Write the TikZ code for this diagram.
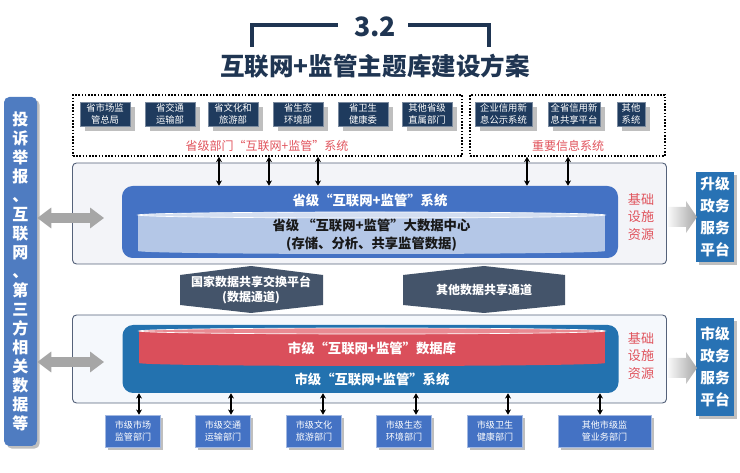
\documentclass[tikz,border=0pt]{standalone}
\usepackage{fontspec}
\setmainfont{Noto Sans CJK SC}
\usepackage{tikz}
\usetikzlibrary{positioning, calc}
\usetikzlibrary{arrows.meta}
\usetikzlibrary{shadows}

\definecolor{navy}{HTML}{1F3552}
\definecolor{provbox}{HTML}{1F3B5E}
\definecolor{lblred}{HTML}{E0535C}
\definecolor{panelfill}{HTML}{F3F4F8}
\definecolor{cityfill}{HTML}{F5F8FC}
\definecolor{panelline}{HTML}{55627A}
\definecolor{provblue}{HTML}{4472C4}
\definecolor{dbblue}{HTML}{B4C7E7}
\definecolor{dbtop}{HTML}{D3DEF1}
\definecolor{chanfill}{HTML}{44546A}
\definecolor{cityblue}{HTML}{2372AF}
\definecolor{dbred}{HTML}{DA4F5B}
\definecolor{dbredtop}{HTML}{E98A92}
\definecolor{sideblue}{HTML}{4F7CC1}
\definecolor{platblue}{HTML}{2872B4}
\definecolor{shadowgray}{HTML}{BFBFBF}
\definecolor{arrowgray}{HTML}{A6A6A6}

\begin{document}
\begin{tikzpicture}[x=0.75pt,y=-0.75pt,>={Stealth[length=4pt,width=4.5pt]}]
	\def\px{0.75pt}
	\tikzstyle{p-node}=[fill=provbox,draw=provbox!60!white,text=white,align=center,inner sep=1pt,
		font=\fontsize{7}{9}\selectfont,minimum height=24*\px,
		drop shadow={shadow xshift=4pt,shadow yshift=-4pt,fill=shadowgray,opacity=1}]
	\tikzstyle{c-node}=[fill=provblue,draw=provblue!50!white,text=white,align=center,inner sep=1pt,
		font=\fontsize{6.8}{8.8}\selectfont,minimum width=55*\px,minimum height=32*\px,
		drop shadow={shadow xshift=2.2pt,shadow yshift=-2.2pt,fill=shadowgray,opacity=1}]
	\tikzstyle{grp}=[draw=black,line width=1.2pt,dash pattern=on 1.2pt off 1.2pt,minimum height=61*\px]
	\tikzstyle{panel}=[draw=panelline,line width=0.7pt,rounded corners=3pt,minimum width=594*\px]
	\tikzstyle{sys}=[rounded corners=8pt,minimum width=496*\px]
	\tikzstyle{annot}=[text=lblred,font=\fontsize{9}{11}\selectfont]
	\tikzstyle{infra}=[text=lblred,align=center,font=\fontsize{9.8}{12.8}\selectfont]
	\tikzstyle{wtitle}=[text=white,font=\fontsize{10}{12}\selectfont\bfseries]
	\tikzstyle{plat}=[fill=platblue,text=white,align=center,minimum width=36*\px,
		font=\fontsize{11}{16.4}\selectfont\bfseries,
		drop shadow={shadow xshift=2.2pt,shadow yshift=-2.2pt,fill=shadowgray,opacity=1}]
	\tikzstyle{dbl}=[<->,line width=0.9pt]
	\tikzstyle{garrow}=[line width=7.5pt,draw=arrowgray,
		{Triangle[length=10.5pt,width=15pt]}-{Triangle[length=10.5pt,width=15pt]}]
	\useasboundingbox (0,0) rectangle (740,473);

	% title
	\node[text=navy,font=\fontsize{20}{22}\selectfont\bfseries] (num) at (375,27) {3.2};
	\node[text=navy,font=\fontsize{18.4}{20}\selectfont\bfseries] (title) at (375,66) {互联网+监管主题库建设方案};
	\draw[navy,line width=2.6pt] (252,47) -- (252,25) -- (338,25);
	\draw[navy,line width=2.6pt] (408,25) -- (489,25) -- (489,47);

	% province departments
	\node[grp,minimum width=389*\px] (provgrp) at (267.5,125.5) {};
	\node[p-node,minimum width=50*\px] (p0) at (105,114) {省市场监\\管总局};
	\node[p-node,minimum width=50*\px] (p1) at (170,114) {省交通\\运输部};
	\node[p-node,minimum width=50*\px] (p2) at (233,114) {省文化和\\旅游部};
	\node[p-node,minimum width=50*\px] (p3) at (298,114) {省生态\\环境部};
	\node[p-node,minimum width=50*\px] (p4) at (363,114) {省卫生\\健康委};
	\node[p-node,minimum width=50*\px] (p5) at (427,114) {其他省级\\直属部门};
	\node[annot] (provlbl) at (267,146) {省级部门“互联网+监管”系统};

	% information systems
	\node[grp,minimum width=195*\px] (infogrp) at (567.5,125.5) {};
	\node[p-node,minimum width=57*\px] (i0) at (503.5,114) {企业信用新\\息公示系统};
	\node[p-node,minimum width=52*\px] (i1) at (574,114) {全省信用新\\息共享平台};
	\node[p-node,minimum width=28*\px] (i2) at (631,114) {其他\\系统};
	\node[annot] (infolbl) at (568,146) {重要信息系统};

	% data channels
	\fill[chanfill] (180,275) -- (251,266) -- (323,275) -- (323,305) -- (251,313) -- (180,305) -- cycle;
	\fill[chanfill] (403,275) -- (484,266) -- (565,275) -- (565,305) -- (484,313) -- (403,305) -- cycle;
	\node[text=white,align=center,font=\fontsize{9}{11.5}\selectfont\bfseries] (nat) at (251,290) {国家数据共享交换平台\\(数据通道)};
	\node[text=white,font=\fontsize{9}{11.5}\selectfont\bfseries] (other) at (484,290) {其他数据共享通道};

	% province layer
	\node[panel,fill=panelfill,minimum height=101*\px] (provpanel) at (369.5,213.5) {};
	\node[sys,fill=provblue,minimum height=72*\px] (provsys) at (370,222) {};
	\node[wtitle] (provttl) at (370,200) {省级“互联网+监管”系统};
	\fill[dbblue] (138,215) rectangle (605,251);
	\fill[dbblue] (371.5,251) ellipse [x radius=233.5, y radius=3];
	\filldraw[fill=dbtop,draw=white,line width=0.5pt] (371.5,215) ellipse [x radius=233.5, y radius=3];
	\node[align=center,text=black!90,font=\fontsize{10}{13}\selectfont\bfseries] (bigdata) at (371.5,235) {省级 “互联网+监管”大数据中心\\(存储、分析、共享监管数据)};
	\node[infra] (provinfra) at (641,217) {基础\\设施\\资源};

	% city layer
	\node[panel,fill=cityfill,minimum height=88*\px] (citypanel) at (369.5,359) {};
	\node[sys,fill=cityblue,minimum height=68*\px] (citysys) at (370.5,359) {};
	\fill[dbred] (139,331) rectangle (605,363);
	\fill[dbred] (372,363) ellipse [x radius=233, y radius=3];
	\filldraw[fill=dbredtop,draw=white,line width=0.5pt] (372,331) ellipse [x radius=233, y radius=3];
	\node[wtitle] (dbttl) at (372,348) {市级“互联网+监管”数据库};
	\node[wtitle] (cityttl) at (372,379) {市级“互联网+监管”系统};
	\node[infra] (cityinfra) at (641,356) {基础\\设施\\资源};

	% city departments
	\node[c-node] (c0) at (133,431) {市级市场\\监管部门};
	\node[c-node] (c1) at (223,431) {市级交通\\运输部门};
	\node[c-node] (c2) at (314,431) {市级文化\\旅游部门};
	\node[c-node] (c3) at (404,431) {市级生态\\环境部门};
	\node[c-node] (c4) at (495,431) {市级卫生\\健康部门};
	\node[c-node,minimum width=93*\px] (c5) at (604.5,431) {其他市级监\\管业务部门};

	% sources and platforms
	\node[fill=sideblue,rounded corners=4pt,text=white,align=center,minimum width=33*\px,minimum height=349*\px,
		font=\fontsize{12}{14.25}\selectfont\bfseries,
		drop shadow={shadow xshift=2pt,shadow yshift=-2pt,fill=shadowgray,opacity=1}] (source) at (20.5,271.5)
		{投\\诉\\举\\报\\、\\互\\联\\网\\、\\第\\三\\方\\相\\关\\数\\据\\等};
	\node[plat,minimum height=90*\px] (upplat) at (715,217) {升级\\政务\\服务\\平台};
	\node[plat,minimum height=98*\px] (cityplat) at (715,367) {市级\\政务\\服务\\平台};

	% links
	\path[dbl]
		(provgrp.south -| 219,0)	edge	(provsys.north -| 219,0)
		(provgrp.south -| 269,0)	edge	(provsys.north -| 269,0)
		(provgrp.south -| 318,0)	edge	(provsys.north -| 318,0)
		(infogrp.south -| 527,0)	edge	(provsys.north -| 527,0)
		(infogrp.south -| 568,0)	edge	(provsys.north -| 568,0)
		%
		(citysys.south -| 139,0)	edge	(c0.north -| 139,0)
		(citysys.south -| 231,0)	edge	(c1.north -| 231,0)
		(citysys.south -| 323,0)	edge	(c2.north -| 323,0)
		(citysys.south -| 416,0)	edge	(c3.north -| 416,0)
		(citysys.south -| 508,0)	edge	(c4.north -| 508,0)
		(citysys.south -| 600,0)	edge	(c5.north -| 600,0);
	\draw[garrow] (source.east |- 0,218) -- ([xshift=24pt]provpanel.west |- 0,218);
	\draw[garrow] (source.east |- 0,362) -- ([xshift=24pt]citypanel.west |- 0,362);
	\shade[left color=gray!5,right color=gray!70] (668,207) -- (686,207) -- (686,201) -- (697,217) -- (686,233) -- (686,227) -- (668,227) -- cycle;
	\shade[left color=gray!5,right color=gray!70] (668,358) -- (686,358) -- (686,352) -- (697,368) -- (686,384) -- (686,378) -- (668,378) -- cycle;
\end{tikzpicture}
\end{document}
